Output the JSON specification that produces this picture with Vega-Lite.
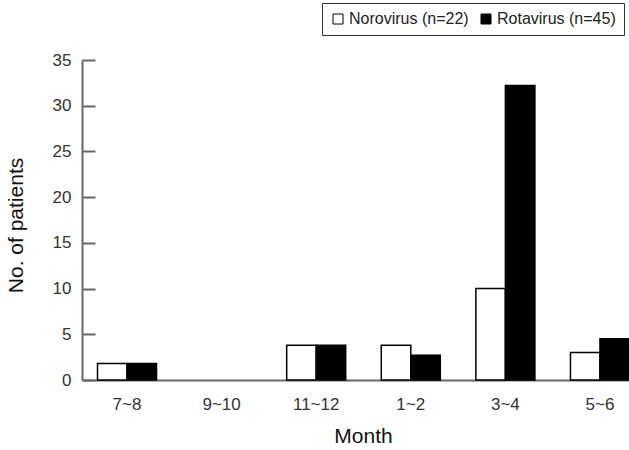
{
  "$schema": "https://vega.github.io/schema/vega-lite/v6.json",
  "width": 547,
  "height": 320,
  "autosize": {"type": "none"},
  "padding": {"left": 82, "top": 60, "right": 0, "bottom": 70},
  "background": "white",
  "config": {
    "font": "Liberation Sans",
    "view": {"stroke": null}
  },
  "data": {
    "values": [
      {"month": "7~8", "virus": "Norovirus (n=22)", "patients": 1.8},
      {"month": "7~8", "virus": "Rotavirus (n=45)", "patients": 1.8},
      {"month": "9~10", "virus": "Norovirus (n=22)", "patients": 0},
      {"month": "9~10", "virus": "Rotavirus (n=45)", "patients": 0},
      {"month": "11~12", "virus": "Norovirus (n=22)", "patients": 3.8},
      {"month": "11~12", "virus": "Rotavirus (n=45)", "patients": 3.8},
      {"month": "1~2", "virus": "Norovirus (n=22)", "patients": 3.8},
      {"month": "1~2", "virus": "Rotavirus (n=45)", "patients": 2.7},
      {"month": "3~4", "virus": "Norovirus (n=22)", "patients": 10.0},
      {"month": "3~4", "virus": "Rotavirus (n=45)", "patients": 32.2},
      {"month": "5~6", "virus": "Norovirus (n=22)", "patients": 3.0},
      {"month": "5~6", "virus": "Rotavirus (n=45)", "patients": 4.5}
    ]
  },
  "transform": [{"filter": "datum.patients > 0"}],
  "mark": {"type": "bar", "stroke": "black", "strokeWidth": 1.5},
  "encoding": {
    "x": {
      "field": "month",
      "type": "nominal",
      "scale": {"domain": ["7~8", "9~10", "11~12", "1~2", "3~4", "5~6"], "paddingInner": 0.376, "paddingOuter": 0.164, "range": [0, 563]},
      "axis": {
        "title": "Month",
        "titleFontSize": 21,
        "titleFontWeight": "normal",
        "titleColor": "#111",
        "titlePadding": 13,
        "titleX": 281,
        "labelAngle": 0,
        "labelFontSize": 17,
        "labelColor": "#333",
        "labelPadding": 16,
        "ticks": false,
        "domainColor": "#666",
        "domainWidth": 2
      }
    },
    "xOffset": {"field": "virus", "type": "nominal"},
    "y": {
      "field": "patients",
      "type": "quantitative",
      "scale": {"domain": [0, 35], "nice": false},
      "axis": {
        "title": "No. of patients",
        "titleFontSize": 21,
        "titleFontWeight": "normal",
        "titleColor": "#111",
        "titlePadding": 26,
        "titleY": 165,
        "values": [0, 5, 10, 15, 20, 25, 30, 35],
        "labelFontSize": 17,
        "labelColor": "#333",
        "tickSize": -13,
        "labelPadding": 24,
        "tickColor": "#666",
        "tickWidth": 2,
        "domainColor": "#666",
        "domainWidth": 2,
        "grid": false
      }
    },
    "fill": {
      "field": "virus",
      "type": "nominal",
      "scale": {"domain": ["Norovirus (n=22)", "Rotavirus (n=45)"], "range": ["white", "black"]},
      "legend": {
        "title": null,
        "orient": "none",
        "legendX": 240,
        "legendY": -57,
        "direction": "horizontal",
        "symbolType": "square",
        "symbolSize": 100,
        "symbolStrokeColor": "black",
        "symbolStrokeWidth": 1,
        "labelFontSize": 16,
        "labelColor": "#222",
        "labelOffset": 3,
        "columnPadding": 9,
        "strokeColor": "#333",
        "padding": 8
      }
    }
  }
}
